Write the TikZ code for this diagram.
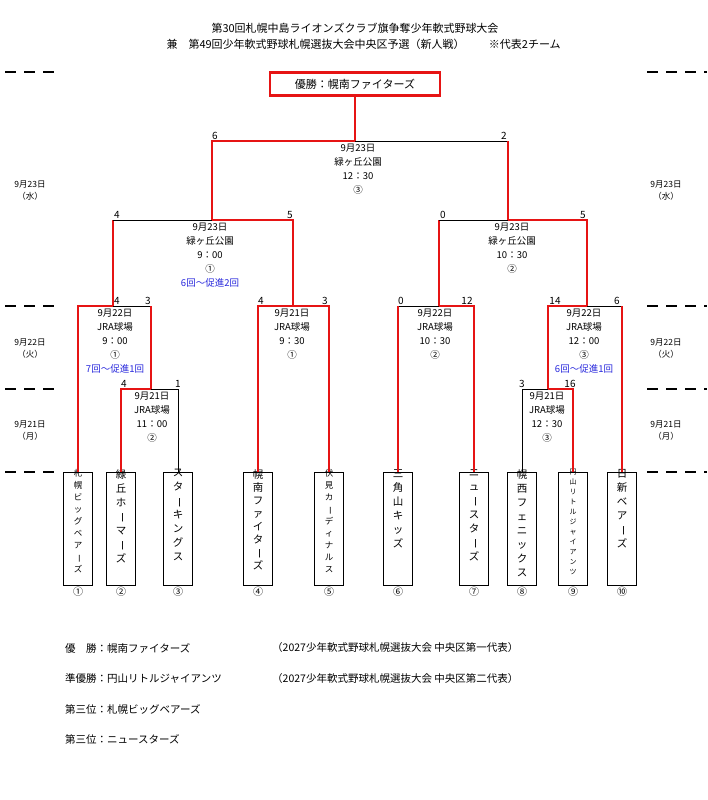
\documentclass[tikz,border=0pt]{standalone}
\usepackage{fontspec}
\setmainfont{Noto Sans CJK JP}
\usetikzlibrary{positioning}

\definecolor{winred}{RGB}{230,20,20}
\definecolor{noteblue}{RGB}{40,40,220}
\newcommand{\vb}{\rotatebox[origin=c]{-90}{ー}}

\tikzset{
    win/.style={draw=winred, line width=2.2pt},
    lose/.style={draw=black, line width=0.7pt},
    team/.style={draw, line width=0.8pt, minimum width=29pt, minimum height=113pt, anchor=north, inner sep=0pt},
    tname/.style={anchor=north, align=center, inner sep=0pt, font=\fontsize{10}{13}\selectfont},
    info/.style={anchor=north, align=center, inner sep=0pt, font=\fontsize{9.5}{14}\selectfont},
    score/.style={anchor=south, inner sep=1pt, font=\fontsize{10}{12}\selectfont},
    day/.style={align=center, font=\fontsize{8.5}{12}\selectfont},
    rmark/.style={line width=1.5pt, dash pattern=on 11pt off 8pt}
}

\begin{document}
\begin{tikzpicture}[x=1pt, y=-1pt]
\useasboundingbox (0,0) rectangle (707,800);

% Title
\node[font=\fontsize{11}{13}\selectfont] (title) at (355,28) {第30回札幌中島ライオンズクラブ旗争奪少年軟式野球大会};
\node[font=\fontsize{11}{13}\selectfont, anchor=west] (subtitle) at (163,44) {兼　第49回少年軟式野球札幌選抜大会中央区予選（新人戦）\hspace{2.2em}※代表2チーム};

% Round marks
\foreach \y in {72,306,389,472}
    {\draw[rmark] (5,\y) -- (60,\y); \draw[rmark] (647,\y) -- (707,\y);}
\foreach \x in {30,666}
    {\node[day] at (\x,191) {9月23日\\（水）};
     \node[day] at (\x,349) {9月22日\\（火）};
     \node[day] at (\x,431) {9月21日\\（月）};}

% Champion
\node[draw=winred, line width=2.2pt, minimum width=170pt, minimum height=23pt, font=\fontsize{11}{13}\selectfont] (champ) at (355,84) {優勝：幌南ファイターズ};

% Teams
\node[team] (t1) at (78,472) {};
\node[team] (t2) at (121,472) {};
\node[team] (t3) at (178,472) {};
\node[team] (t4) at (258,472) {};
\node[team] (t5) at (329,472) {};
\node[team] (t6) at (398,472) {};
\node[team] (t7) at (474,472) {};
\node[team] (t8) at (522,472) {};
\node[team] (t9) at (573,472) {};
\node[team] (t10) at (622,472) {};

\node[tname, font=\fontsize{8.5}{12}\selectfont] at ([yshift=3pt]t1.north) {札\\幌\\ビ\\ッ\\グ\\ベ\\ア\\\vb\\ズ};
\node[tname, font=\fontsize{10.5}{14}\selectfont] at ([yshift=3pt]t2.north) {緑\\丘\\ホ\\\vb\\マ\\\vb\\ズ};
\node[tname, font=\fontsize{10.5}{14}\selectfont] at ([yshift=3pt]t3.north) {ス\\タ\\\vb\\キ\\ン\\グ\\ス};
\node[tname, font=\fontsize{10.5}{13}\selectfont] at ([yshift=3pt]t4.north) {幌\\南\\フ\\ァ\\イ\\タ\\\vb\\ズ};
\node[tname, font=\fontsize{8.5}{12}\selectfont] at ([yshift=3pt]t5.north) {伏\\見\\カ\\\vb\\デ\\ィ\\ナ\\ル\\ス};
\node[tname, font=\fontsize{10.5}{14}\selectfont] at ([yshift=3pt]t6.north) {三\\角\\山\\キ\\ッ\\ズ};
\node[tname, font=\fontsize{10.5}{14}\selectfont] at ([yshift=3pt]t7.north) {ニ\\ュ\\\vb\\ス\\タ\\\vb\\ズ};
\node[tname, font=\fontsize{10.5}{14}\selectfont] at ([yshift=3pt]t8.north) {幌\\西\\フ\\ェ\\ニ\\ッ\\ク\\ス};
\node[tname, font=\fontsize{7}{10}\selectfont] at ([yshift=3pt]t9.north) {円\\山\\リ\\ト\\ル\\ジ\\ャ\\イ\\ア\\ン\\ツ};
\node[tname, font=\fontsize{10.5}{14}\selectfont] at ([yshift=3pt]t10.north) {日\\新\\ベ\\ア\\\vb\\ズ};

\foreach \i/\c in {1/①,2/②,3/③,4/④,5/⑤,6/⑥,7/⑦,8/⑧,9/⑨,10/⑩}
    \node[below=1pt of t\i, inner sep=0pt, font=\fontsize{10}{12}\selectfont] {\c};

% First round
\draw[win] (t2.north) |- (151,389);
\draw[lose] (151,389) -| (t3.north);
\draw[lose] (t8.north) |- (548,389);
\draw[win] (548,389) -| (t9.north);

% Quarter finals
\draw[win] (t1.north) |- (113,306);
\draw[lose] (113,306) -- (151,306);
\draw[win] (151,306) -- (151,389);
\draw[win] (t4.north) |- (t5.north |- 0,306) -- (t5.north);
\draw[lose] (397,306) -- (439,306);
\draw[win] (t6.north) -- (t6.north |- 0,306);
\draw[win] (439,306) -| (t7.north);
\draw[win] (548,389) |- (587,306);
\draw[lose] (587,306) -| (t10.north |- 0,306);
\draw[win] (t10.north |- 0,306) -- (t10.north);

% Semi finals
\draw[win] (113,306) -- (113,220);
\draw[lose] (113,220) -- (212,220);
\draw[win] (212,220) -| (293,306);
\draw[win] (439,306) -- (439,220);
\draw[lose] (439,220) -- (508,220);
\draw[win] (508,220) -| (587,306);

% Final
\draw[win] (212,220) |- (champ.south |- 0,141) -- (champ.south);
\draw[lose] (champ.south |- 0,141) -- (508,141);
\draw[win] (508,141) -- (508,220);

% Scores
\node[score] at (117,306) {4};
\node[score] at (148,306) {3};
\node[score] at (124,389) {4};
\node[score] at (178,389) {1};
\node[score] at (261,306) {4};
\node[score] at (325,306) {3};
\node[score] at (401,306) {0};
\node[score] at (467,306) {12};
\node[score] at (555,306) {14};
\node[score] at (617,306) {6};
\node[score] at (522,389) {3};
\node[score] at (570,389) {16};
\node[score] at (117,220) {4};
\node[score] at (290,220) {5};
\node[score] at (443,220) {0};
\node[score] at (583,220) {5};
\node[score] at (215,141) {6};
\node[score] at (504,141) {2};

% Match info
\node[info] at (358,144) {9月23日\\緑ヶ丘公園\\12：30\\③};
\node[info] at (210,223) {9月23日\\緑ヶ丘公園\\9：00\\①\\\textcolor{noteblue}{6回～促進2回}};
\node[info] at (512,223) {9月23日\\緑ヶ丘公園\\10：30\\②};
\node[info] at (115,309) {9月22日\\JRA球場\\9：00\\①\\\textcolor{noteblue}{7回～促進1回}};
\node[info] at (292,309) {9月21日\\JRA球場\\9：30\\①};
\node[info] at (435,309) {9月22日\\JRA球場\\10：30\\②};
\node[info] at (584,309) {9月22日\\JRA球場\\12：00\\③\\\textcolor{noteblue}{6回～促進1回}};
\node[info] at (152,392) {9月21日\\JRA球場\\11：00\\②};
\node[info] at (547,392) {9月21日\\JRA球場\\12：30\\③};

% Results
\begin{scope}[every node/.style={anchor=west, inner sep=0pt, font=\fontsize{10.5}{13}\selectfont}]
    \node at (65,648) {優　勝：幌南ファイターズ};
    \node at (272,648) {（2027少年軟式野球札幌選抜大会 中央区第一代表）};
    \node at (65,679) {準優勝：円山リトルジャイアンツ};
    \node at (272,679) {（2027少年軟式野球札幌選抜大会 中央区第二代表）};
    \node at (65,709) {第三位：札幌ビッグベアーズ};
    \node at (65,739) {第三位：ニュースターズ};
\end{scope}

\end{tikzpicture}
\end{document}
